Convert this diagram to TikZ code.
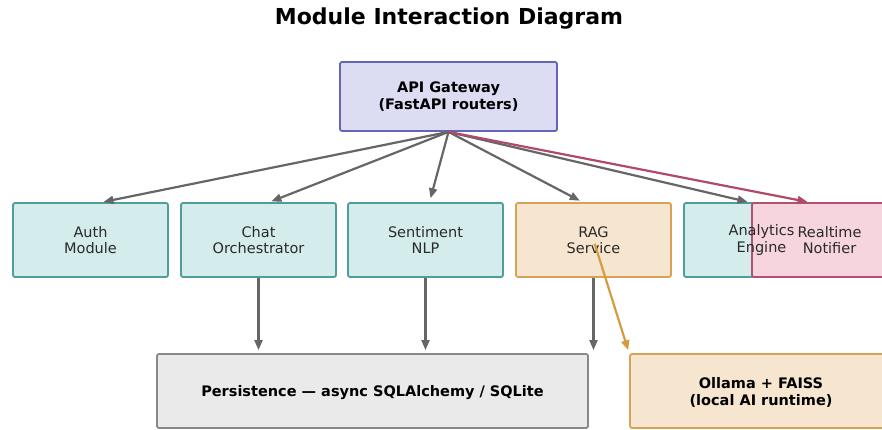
\documentclass[tikz,border=0pt]{standalone}
\usepackage{fontspec}
\setmainfont{DejaVu Sans}
\usetikzlibrary{arrows.meta}

\definecolor{gwfill}{HTML}{DCDCF2}
\definecolor{gwline}{HTML}{6565B5}
\definecolor{tealfill}{HTML}{D5ECEC}
\definecolor{tealline}{HTML}{4E9F9B}
\definecolor{orfill}{HTML}{F7E6CF}
\definecolor{orline}{HTML}{D7A256}
\definecolor{pkfill}{HTML}{F6D5DF}
\definecolor{pkline}{HTML}{B3516F}
\definecolor{grfill}{HTML}{EAEAEA}
\definecolor{grline}{HTML}{888888}
\definecolor{arrgray}{HTML}{666666}
\definecolor{arrpink}{HTML}{B04A6A}
\definecolor{arrorange}{HTML}{D39C3E}
\definecolor{ink}{HTML}{2A2A2A}

\tikzset{
  txt/.style={align=center, text=ink, font=\fontsize{14.5}{16.5}\selectfont},
  boldtxt/.style={txt, text=black, font=\fontsize{14.5}{16.5}\selectfont\bfseries},
  box/.style={draw, rounded corners=2pt, line width=1.8pt, align=center,
    inner sep=0pt, txt},
  modbox/.style={box, minimum width=155pt, minimum height=74pt},
  teal/.style={modbox, fill=tealfill, draw=tealline},
  orange/.style={fill=orfill, draw=orline},
  pink/.style={fill=pkfill, draw=pkline},
  flow/.style={draw=arrgray, line width=2.2pt,
    -{Triangle[length=10pt,width=8pt]}},
}

\begin{document}
\begin{tikzpicture}[x=1pt,y=-1pt]
\useasboundingbox (0,0) rectangle (882,430);

% title
\node[font=\fontsize{22}{26}\selectfont\bfseries] (title) at (449,19) {Module Interaction Diagram};

% gateway
\node[box, boldtxt, fill=gwfill, draw=gwline, minimum width=217pt, minimum height=69pt]
  (gw) at (448.5,96.5) {API Gateway\\(FastAPI routers)};

% module row
\node[teal] (auth) at (90.5,240) {Auth\\Module};
\node[teal] (chat) at (258.5,240) {Chat\\Orchestrator};
\node[teal] (sent) at (425.5,240) {Sentiment\\NLP};
\node[modbox, orange] (rag) at (593.5,240) {RAG\\Service};
\node[teal] (anal) at (761.5,240) {};
\node[modbox, pink] (rt) at (829.5,240) {Realtime\\Notifier};
% the analytics label sits above the overlapping notifier box
\node[txt] (analtext) at (anal.center) {Analytics\\Engine};

% lower row
\node[box, fill=grfill, draw=grline, minimum width=431pt, minimum height=74pt]
  (db) at (372.5,391) {};
\node[boldtxt] (dbtext) at (372.5,393) {Persistence — async SQLAlchemy / SQLite};
\node[box, orange, minimum width=262pt, minimum height=74pt]
  (llm) at (761,391) {};
\node[boldtxt] (llmtext) at (761,392.5) {Ollama + FAISS\\(local AI runtime)};

% gateway fan-out
\draw[flow, shorten >=1pt] (gw.south) -- ([xshift=12pt]auth.north);
\draw[flow, shorten >=2pt] (gw.south) -- ([xshift=11pt]chat.north);
\draw[flow, shorten >=4pt] (gw.south) -- ([xshift=4pt]sent.north);
\draw[flow, shorten >=3pt] (gw.south) -- ([xshift=-11pt]rag.north);
\draw[flow, shorten >=1pt] (gw.south) -- ([xshift=-13pt]anal.north);
\draw[flow, draw=arrpink, shorten >=1pt] (gw.south) -- ([xshift=-21pt]rt.north);

% persistence links
\draw[flow, shorten >=3pt] (chat.south) -- (chat.south |- db.north);
\draw[flow, shorten >=3pt] (sent.south) -- (sent.south |- db.north);
\draw[flow, shorten >=3pt] (rag.south) -- (rag.south |- db.north);

% RAG to local runtime
\draw[flow, draw=arrorange, shorten <=4pt, shorten >=3pt] (rag.center) -- (llm.north west);
\end{tikzpicture}
\end{document}
